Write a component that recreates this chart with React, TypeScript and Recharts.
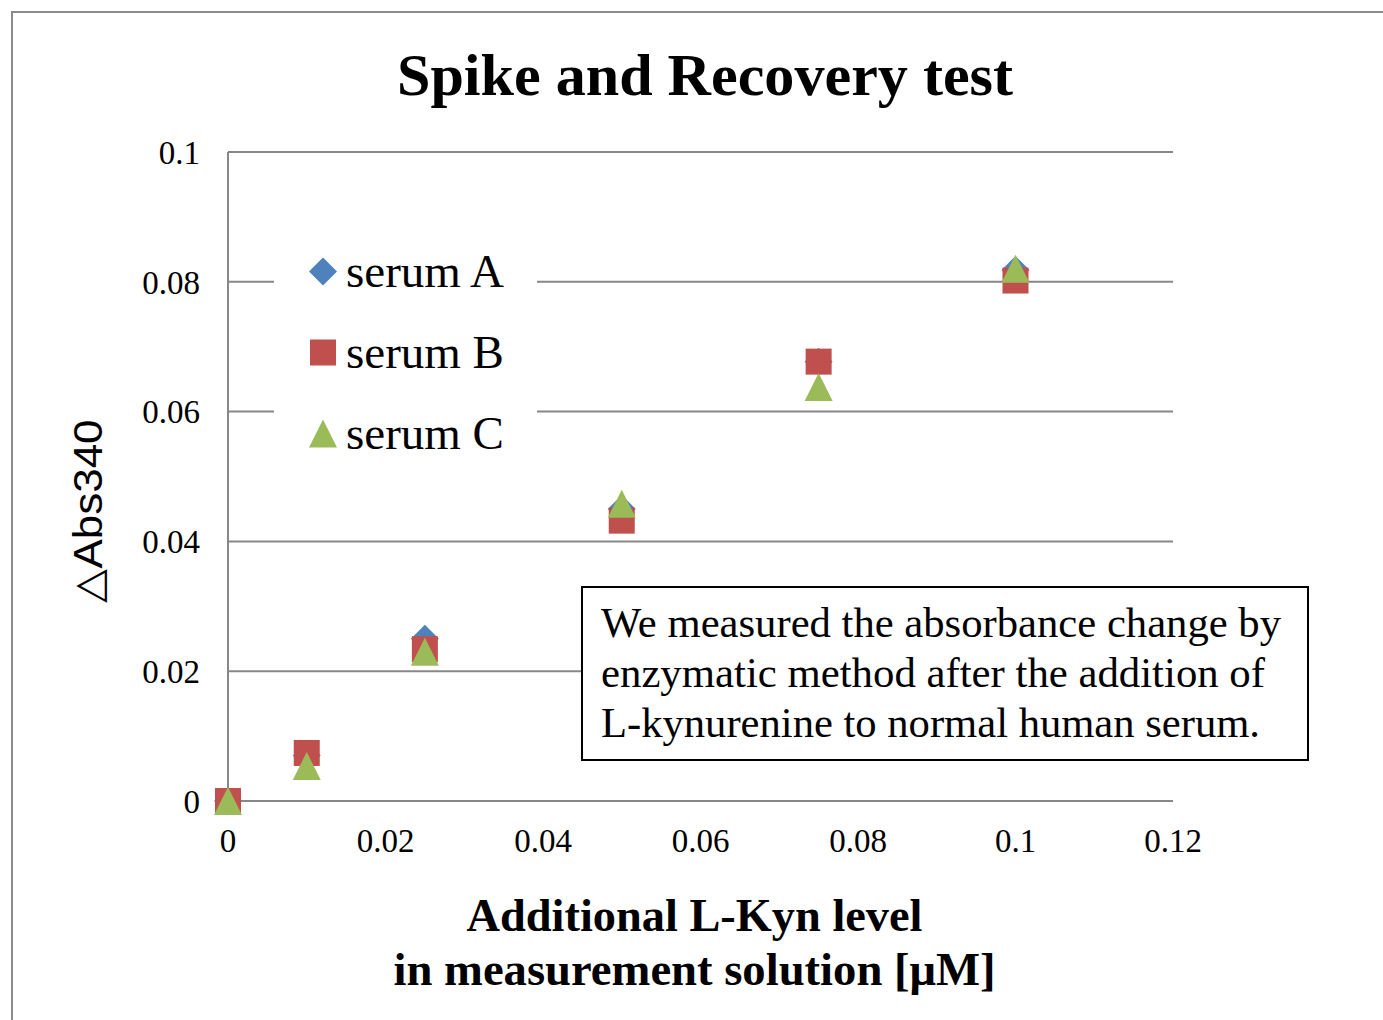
import React from 'react';
import { ScatterChart, Scatter, XAxis, YAxis, CartesianGrid, Legend, Label } from 'recharts';

const levels = [0, 0.01, 0.025, 0.05, 0.075, 0.1];
const serumA = [0, 0.007, 0.025, 0.045, 0.0677, 0.0818];
const serumB = [0, 0.0074, 0.0234, 0.0432, 0.0677, 0.0802];
const serumC = [0, 0.0054, 0.023, 0.0458, 0.0638, 0.082];
const xTicks = [0, 0.02, 0.04, 0.06, 0.08, 0.1, 0.12];
const yTicks = [0, 0.02, 0.04, 0.06, 0.08, 0.1];
const noteLines = [
    'We measured the absorbance change by',
    'enzymatic method after the addition of',
    'L-kynurenine to normal human serum.',
];

const BLUE = '#4F81BD';
const RED = '#C0504D';
const GREEN = '#9BBB59';
const GRID = '#878787';
const SERIF = '"Liberation Serif", "Times New Roman", serif';

const toPoints = (ys: number[]) => levels.map((x, i) => ({ x, y: ys[i] }));

const drawMarker = (kind: string, cx: number, cy: number, fill: string) => {
    if (kind === 'diamond') {
        const h = 14;
        return <path d={`M${cx},${cy - h}L${cx + h},${cy}L${cx},${cy + h}L${cx - h},${cy}Z`} fill={fill} />;
    }
    if (kind === 'square') {
        return <rect x={cx - 13} y={cy - 13} width={26} height={26} fill={fill} />;
    }
    return <path d={`M${cx},${cy - 14}L${cx + 14},${cy + 14}L${cx - 14},${cy + 14}Z`} fill={fill} />;
};

const shapeOf: Record<string, string> = { 'serum A': 'diamond', 'serum B': 'square', 'serum C': 'triangle' };

const makeShape = (kind: string, fill: string) => (p: any) => drawMarker(kind, p.cx, p.cy, fill);

const LegendBox = ({ payload }: any) => (
    <div style={{ background: '#fff', width: 263 }}>
        {(payload || []).map((e: any) => (
            <div key={e.value} style={{ height: 81, display: 'flex', alignItems: 'center' }}>
                <svg width={72} height={81} style={{ flex: 'none' }}>
                    {drawMarker(shapeOf[e.value], 49, 40.5, e.color)}
                </svg>
                <span style={{ fontFamily: SERIF, fontSize: 47, color: '#000', lineHeight: '81px' }}>{e.value}</span>
            </div>
        ))}
    </div>
);

const tickFmt = (v: number) => (v === 0 ? '0' : String(v));

const XTitle = (props: any) => {
    const vb = props.viewBox;
    const cx = vb.x + vb.width / 2 - 6;
    const st = { fontFamily: SERIF, fontWeight: 700, fontSize: 46, fill: '#000' } as const;
    return (
        <g>
            <text x={cx} y={931} textAnchor="middle" textLength={456} lengthAdjust="spacingAndGlyphs" style={st}>Additional L-Kyn level</text>
            <text x={cx} y={985} textAnchor="middle" textLength={602} lengthAdjust="spacingAndGlyphs" style={st}>in measurement solution [μM]</text>
        </g>
    );
};

const YTitle = () => (
    <text
        x={0} y={0}
        transform="translate(102, 511) rotate(-90)"
        textAnchor="middle"
        textLength={183}
        lengthAdjust="spacingAndGlyphs"
        style={{ fontFamily: '"Liberation Sans", Arial, sans-serif', fontSize: 40, fill: '#000' }}
    >
        △Abs340
    </text>
);

const App: React.FC = () => (
    <div style={{ position: 'absolute', left: 0, top: 0, width: 1383, height: 1020, background: '#fff' }}>
        <ScatterChart width={1383} height={1020} margin={{ top: 152, right: 210, bottom: 0, left: 0 }}>
            <CartesianGrid horizontal vertical={false} stroke={GRID} strokeWidth={2} />
            <XAxis
                type="number" dataKey="x" domain={[0, 0.12]} ticks={xTicks} height={219}
                tickFormatter={tickFmt} axisLine={{ stroke: GRID, strokeWidth: 2 }} tickLine={false}
                tickSize={6} tickMargin={22} allowDecimals
                tick={{ fill: '#000', fontSize: 33, fontFamily: SERIF }}
            >
                <Label content={XTitle} />
            </XAxis>
            <YAxis
                type="number" dataKey="y" domain={[0, 0.1]} ticks={yTicks} width={228}
                tickFormatter={tickFmt} axisLine={{ stroke: GRID, strokeWidth: 2 }} tickLine={false}
                tickSize={6} tickMargin={22}
                tick={{ fill: '#000', fontSize: 33, fontFamily: SERIF }}
            >
                <Label content={YTitle} />
            </YAxis>
            <Legend
                layout="vertical" align="center" verticalAlign="middle"
                content={LegendBox}
                wrapperStyle={{ left: 274, top: 231, width: 263 }}
            />
            <Scatter name="serum A" data={toPoints(serumA)} fill={BLUE} shape={makeShape('diamond', BLUE)} isAnimationActive={false} />
            <Scatter name="serum B" data={toPoints(serumB)} fill={RED} shape={makeShape('square', RED)} isAnimationActive={false} />
            <Scatter name="serum C" data={toPoints(serumC)} fill={GREEN} shape={makeShape('triangle', GREEN)} isAnimationActive={false} />
        </ScatterChart>
        <svg width={1383} height={1020} style={{ position: 'absolute', left: 0, top: 0, pointerEvents: 'none' }}>
            <path d="M12,1020V12H1383" fill="none" stroke="#8a8a8a" strokeWidth={2} />
            <text x={705} y={95} textAnchor="middle" textLength={616} lengthAdjust="spacingAndGlyphs"
                style={{ fontFamily: SERIF, fontWeight: 700, fontSize: 60, fill: '#000' }}>
                Spike and Recovery test
            </text>
            <rect x={582} y={587} width={726} height={173} fill="#fff" stroke="#000" strokeWidth={2} />
            {noteLines.map((t, i) => (
                <text key={i} x={601} y={637 + i * 50} textLength={[680, 664, 659][i]} lengthAdjust="spacingAndGlyphs"
                    style={{ fontFamily: SERIF, fontSize: 42, fill: '#000' }}>
                    {t}
                </text>
            ))}
        </svg>
    </div>
);

export default App;
